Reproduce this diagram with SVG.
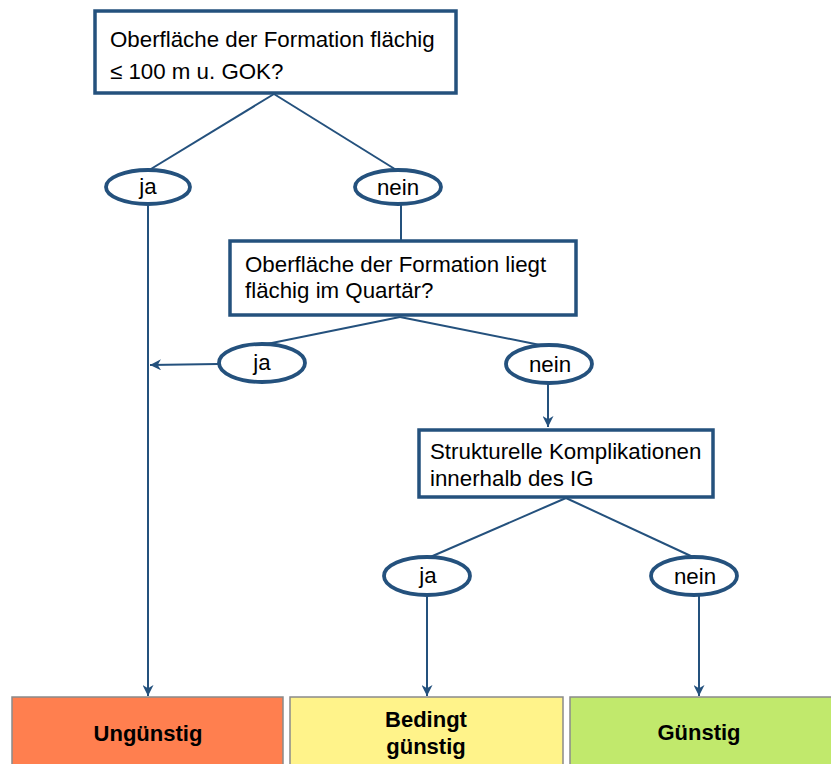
<svg xmlns="http://www.w3.org/2000/svg" width="831" height="764" viewBox="0 0 831 764">
  <defs>
    <marker id="arrow" viewBox="0 0 10 10" refX="10" refY="5" markerWidth="11" markerHeight="11" markerUnits="userSpaceOnUse" orient="auto">
      <path d="M0,0 L10,5 L0,10 L3,5 Z" fill="#24517d"/>
    </marker>
    <style>
      .q { fill: #ffffff; stroke: #24517d; stroke-width: 3.5; }
      .e { fill: #ffffff; stroke: #24517d; stroke-width: 3.8; }
      .ln { fill: none; stroke: #24517d; stroke-width: 2; }
      .t { font-family: "Liberation Sans", Arial, sans-serif; font-size: 22.3px; fill: #000000; }
      .c { text-anchor: middle; }
      .r { stroke: #8a8a8a; stroke-width: 1.5; }
      .b { font-family: "Liberation Sans", Arial, sans-serif; font-size: 22px; font-weight: bold; fill: #000000; text-anchor: middle; }
    </style>
  </defs>
  <rect width="831" height="764" fill="#ffffff"/>

  <g id="connectors">
    <line class="ln" x1="274" y1="94" x2="146" y2="172"/>
    <line class="ln" x1="274" y1="94" x2="398" y2="171"/>
    <line class="ln" x1="148" y1="205" x2="148" y2="696" marker-end="url(#arrow)"/>
    <line class="ln" x1="401" y1="205" x2="401" y2="240"/>
    <line class="ln" x1="400" y1="317" x2="262" y2="345"/>
    <line class="ln" x1="400" y1="317" x2="545" y2="346"/>
    <line class="ln" x1="218" y1="364" x2="150" y2="365" marker-end="url(#arrow)"/>
    <line class="ln" x1="548" y1="383" x2="548" y2="427" marker-end="url(#arrow)"/>
    <line class="ln" x1="566" y1="498" x2="428" y2="558"/>
    <line class="ln" x1="566" y1="498" x2="693" y2="557"/>
    <line class="ln" x1="427" y1="595" x2="427" y2="696" marker-end="url(#arrow)"/>
    <line class="ln" x1="699" y1="595" x2="699" y2="696" marker-end="url(#arrow)"/>
  </g>

  <g id="q1">
    <rect class="q" x="95" y="11" width="361" height="82"/>
    <text class="t" x="110" y="47">Oberfläche der Formation flächig</text>
    <text class="t" x="110" y="79">≤ 100 m u. GOK?</text>
  </g>
  <g id="q1-ja">
    <ellipse class="e" cx="148" cy="187" rx="42" ry="17"/>
    <text class="t c" x="148" y="194">ja</text>
  </g>
  <g id="q1-nein">
    <ellipse class="e" cx="398" cy="187" rx="43" ry="17"/>
    <text class="t c" x="398" y="195">nein</text>
  </g>

  <g id="q2">
    <rect class="q" x="230" y="241" width="346" height="74"/>
    <text class="t" x="245" y="272">Oberfläche der Formation liegt</text>
    <text class="t" x="245" y="298">flächig im Quartär?</text>
  </g>
  <g id="q2-ja">
    <ellipse class="e" cx="262" cy="363" rx="43" ry="19"/>
    <text class="t c" x="262" y="370">ja</text>
  </g>
  <g id="q2-nein">
    <ellipse class="e" cx="549" cy="364" rx="43" ry="19"/>
    <text class="t c" x="550" y="372">nein</text>
  </g>

  <g id="q3">
    <rect class="q" x="419" y="430" width="294" height="67"/>
    <text class="t" x="430" y="459">Strukturelle Komplikationen</text>
    <text class="t" x="430" y="486">innerhalb des IG</text>
  </g>
  <g id="q3-ja">
    <ellipse class="e" cx="427" cy="576" rx="43" ry="19"/>
    <text class="t c" x="428" y="583">ja</text>
  </g>
  <g id="q3-nein">
    <ellipse class="e" cx="694" cy="576" rx="43" ry="19"/>
    <text class="t c" x="695" y="584">nein</text>
  </g>

  <g id="ungunstig">
    <rect class="r" x="12" y="697" width="271" height="70" fill="#ff7f4f"/>
    <text class="b" x="148" y="741">Ungünstig</text>
  </g>
  <g id="bedingt">
    <rect class="r" x="290" y="697" width="273" height="70" fill="#fff38a"/>
    <text class="b" x="426" y="727">Bedingt</text>
    <text class="b" x="426" y="754">günstig</text>
  </g>
  <g id="gunstig">
    <rect class="r" x="570" y="697" width="265" height="70" fill="#c1e96c"/>
    <text class="b" x="699" y="740">Günstig</text>
  </g>
</svg>
